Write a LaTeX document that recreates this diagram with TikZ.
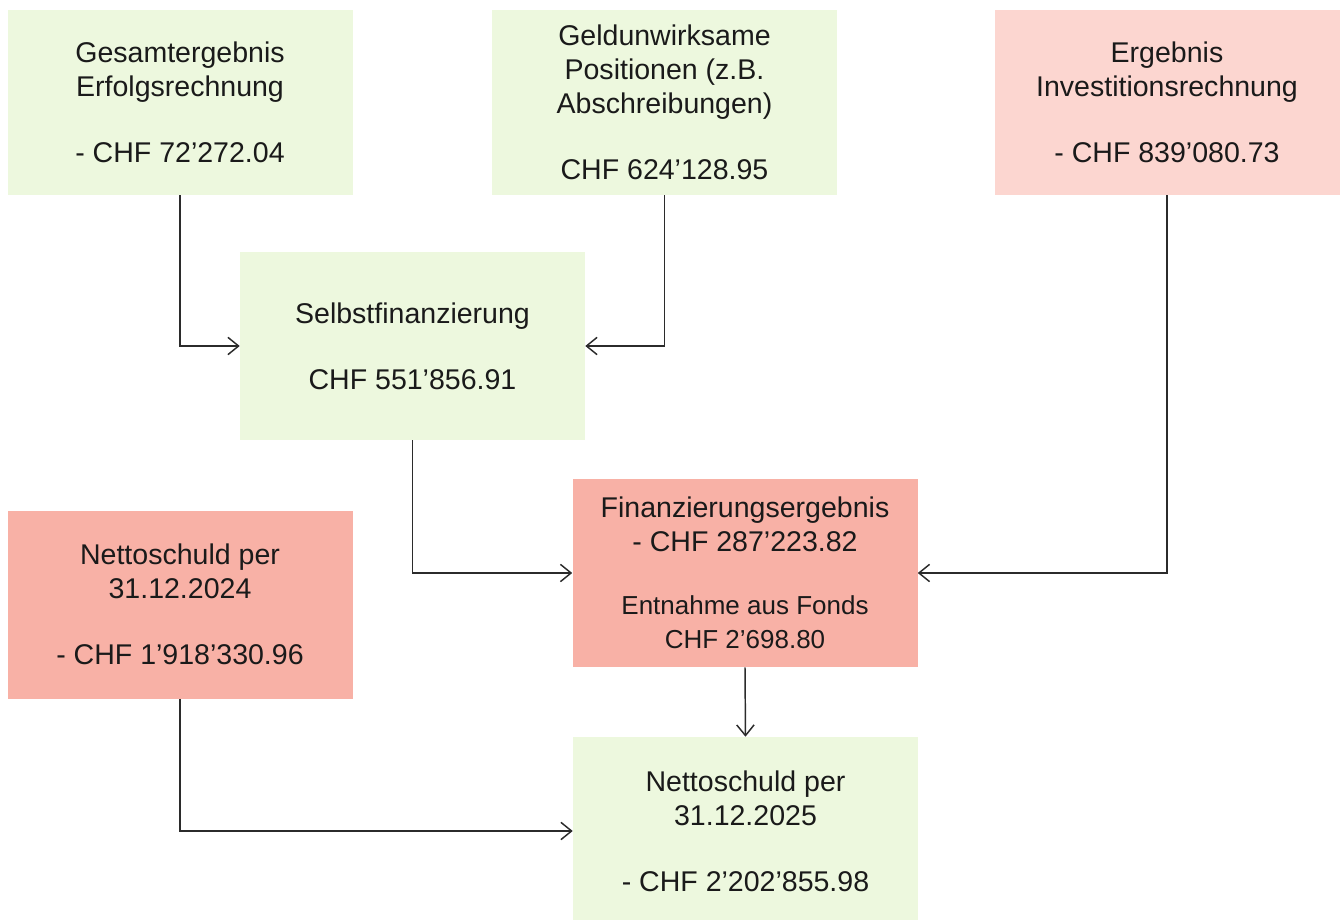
\documentclass[tikz,border=0pt]{standalone}
\usepackage{fontspec}
\setmainfont{Liberation Sans}
\usetikzlibrary{arrows.meta}

\definecolor{plusgruen}{HTML}{EDF8DE}
\definecolor{hellrot}{HTML}{FCD6D0}
\definecolor{mittelrot}{HTML}{F8B1A6}
\definecolor{schrift}{HTML}{1A1A1A}
\definecolor{linie}{HTML}{2B2B2B}

\tikzset{
  posten/.style={minimum width=258.75pt, minimum height=141pt, inner sep=0pt,
    align=center, text=schrift, font=\fontsize{21.4}{25.5}\selectfont},
  fluss/.style={draw=linie, line width=1.1pt, -{Straight Barb[length=8pt,width=13pt]}},
  knick/.style={to path={|- (\tikztotarget)}}
}

\begin{document}
\begin{tikzpicture}[x=0.75pt,y=-0.75pt]
              \useasboundingbox (0,0) rectangle (1343,920);

              \node[posten, fill=plusgruen, minimum height=138.75pt] (gesamt) at (180,102.5)
                {Gesamtergebnis\\Erfolgsrechnung\\[24pt]- CHF 72’272.04};
              \node[posten, fill=plusgruen, minimum height=138.75pt] (geldunw) at (664.5,102.5)
                {Geldunwirksame\\Positionen (z.B.\\Abschreibungen)\\[24pt]CHF 624’128.95};
              \node[posten, fill=hellrot, minimum height=138.75pt] (invest) at (1167,102.5)
                {Ergebnis\\Investitionsrechnung\\[24pt]- CHF 839’080.73};
              \node[posten, fill=plusgruen] (selbst) at (412.5,346)
                {Selbstfinanzierung\\[24pt]CHF 551’856.91};
              \node[posten, fill=mittelrot] (finanz) at (745,573)
                {Finanzierungsergebnis\\- CHF 287’223.82\\[22pt]%
                 \fontsize{19.5}{21.75}\selectfont Entnahme aus Fonds\\%
                 \fontsize{19.5}{21.75}\selectfont CHF 2’698.80};
              \node[posten, fill=mittelrot] (netto24) at (180,604.5)
                {Nettoschuld per\\31.12.2024\\[24pt]- CHF 1’918’330.96};
              \node[posten, fill=plusgruen] (netto25) at (745.5,831)
                {Nettoschuld per\\31.12.2025\\[24pt]- CHF 2’202’855.98};

              \path (gesamt.south)  edge[fluss,knick] (selbst.west)
                    (geldunw.south) edge[fluss,knick] (selbst.east)
                    (selbst.south)  edge[fluss,knick] (finanz.west)
                    (invest.south)  edge[fluss,knick] (finanz.east)
                    (finanz.south)  edge[fluss]       (netto25.north)
                    (netto24.south) edge[fluss,knick] (netto25.west);
            \end{tikzpicture}
\end{document}
